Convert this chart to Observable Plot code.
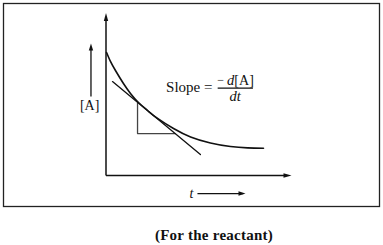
<!DOCTYPE html>
<html>
<head>
<meta charset="utf-8">
<script src="https://cdn.jsdelivr.net/npm/d3@7"></script>
<script src="https://cdn.jsdelivr.net/npm/@observablehq/plot@0.6"></script>
<style>
  html, body { margin: 0; padding: 0; background: #fff; }
  #chart svg { display: block; }
  #caption {
    font-family: "Liberation Serif", serif;
    font-weight: bold;
    font-size: 15px;
    letter-spacing: 0.25px;
    color: #111;
    width: 383px;
    box-sizing: border-box;
    padding-left: 45px;
    text-align: center;
    height: 33px;
    line-height: 46px;
  }
</style>
</head>
<body>
<div id="chart"></div>
<div id="caption">(For the reactant)</div>
<script>
// Concentration of reactant [A] vs time t (arbitrary units)
const timeValues = [0.03, 0.24, 0.51, 0.94, 1.32, 1.75, 2.24, 2.78, 3.64, 4.56, 5.63, 6.71, 7.63, 8.49];
const concValues = [7.57, 7.02, 6.46, 5.66, 5.05, 4.49, 4.00, 3.51, 2.89, 2.37, 2.00, 1.78, 1.70, 1.68];

// Tangent line at the touching point
const tangentT = [0.35, 5.09];
const tangentA = [5.78, 1.29];

// Slope triangle (vertical leg then horizontal leg)
const triangleT = [1.70, 1.70, 3.73];
const triangleA = [4.49, 2.58, 2.58];

// Labels
const yLabel = "[A]";
const xLabel = "t";
const slopeLabel = "Slope =";
const numMinus = "−";
const numD = "d";
const numA = "[A]";
const denom = "dt";

const curve = timeValues.map((t, i) => ({t, a: concValues[i]}));
const tangent = tangentT.map((t, i) => ({t, a: tangentA[i]}));
const triangle = triangleT.map((t, i) => ({t, a: triangleA[i]}));

const arrowHead = {
  draw(context) {
    context.moveTo(0, 0);
    context.lineTo(-2.2, 8);
    context.lineTo(2.2, 8);
    context.closePath();
  }
};
const smallHead = {
  draw(context) {
    context.moveTo(0, 0);
    context.lineTo(-2.2, 7);
    context.lineTo(2.2, 7);
    context.closePath();
  }
};

const font = "Liberation Serif";

const chart = Plot.plot({
  width: 383,
  height: 212,
  marginLeft: 3,
  marginRight: 4,
  marginTop: 3,
  marginBottom: 6,
  style: {background: "#fff", overflow: "visible"},
  x: {domain: [0, 10], range: [105.5, 291], axis: null},
  y: {domain: [0, 10], range: [175, 12.5], axis: null},
  marks: [
    Plot.frame({stroke: "#222", strokeWidth: 1.3}),
    // axes
    Plot.link([{x1: 0, y1: 0, x2: 0, y2: 9.6}], {x1: "x1", y1: "y1", x2: "x2", y2: "y2", stroke: "#111", strokeWidth: 1.5}),
    Plot.link([{x1: 0, y1: 0, x2: 9.6, y2: 0}], {x1: "x1", y1: "y1", x2: "x2", y2: "y2", stroke: "#111", strokeWidth: 1.5}),
    Plot.dot([{x: 0, y: 10}], {x: "x", y: "y", symbol: arrowHead, r: 3, fill: "#111", stroke: null}),
    Plot.dot([{x: 10, y: 0}], {x: "x", y: "y", symbol: arrowHead, r: 3, fill: "#111", stroke: null, rotate: 90}),
    // [A] arrow
    Plot.link([{x1: -0.81, y1: 4.86, x2: -0.81, y2: 7.9}], {x1: "x1", y1: "y1", x2: "x2", y2: "y2", stroke: "#111", strokeWidth: 1.3}),
    Plot.dot([{x: -0.81, y: 8.12}], {x: "x", y: "y", symbol: smallHead, r: 3, fill: "#111", stroke: null}),
    // t arrow
    Plot.link([{x1: 4.93, y1: -1.11, x2: 7.4, y2: -1.11}], {x1: "x1", y1: "y1", x2: "x2", y2: "y2", stroke: "#111", strokeWidth: 1.3}),
    Plot.dot([{x: 7.52, y: -1.11}], {x: "x", y: "y", symbol: smallHead, r: 3, fill: "#111", stroke: null, rotate: 90}),
    // slope triangle
    Plot.line(triangle, {x: "t", y: "a", stroke: "#444", strokeWidth: 1.3}),
    // tangent
    Plot.line(tangent, {x: "t", y: "a", stroke: "#111", strokeWidth: 1.3}),
    // curve
    Plot.line(curve, {x: "t", y: "a", curve: "natural", stroke: "#111", strokeWidth: 1.6}),
    // labels
    Plot.text([yLabel], {x: [-0.88], y: [4.32], text: d => d, fontFamily: font, fontSize: 14, fill: "#111"}),
    Plot.text([xLabel], {x: [4.61], y: [-1.11], text: d => d, fontFamily: font, fontSize: 14, fontStyle: "italic", fill: "#111"}),
    Plot.text([slopeLabel], {x: [5.74], y: [5.43], text: d => d, textAnchor: "end", fontFamily: font, fontSize: 15, fill: "#111"}),
    Plot.text([numMinus], {x: [6.0], y: [5.85], text: d => d, textAnchor: "start", fontFamily: font, fontSize: 12, fill: "#111"}),
    Plot.text([numD], {x: [6.52], y: [5.85], text: d => d, textAnchor: "start", fontFamily: font, fontSize: 14.5, fontStyle: "italic", fill: "#111"}),
    Plot.text([numA], {x: [6.92], y: [5.85], text: d => d, textAnchor: "start", fontFamily: font, fontSize: 14, fill: "#111"}),
    Plot.link([{x1: 6.02, y1: 5.38, x2: 7.92, y2: 5.38}], {x1: "x1", y1: "y1", x2: "x2", y2: "y2", stroke: "#111", strokeWidth: 1.1}),
    Plot.text([denom], {x: [6.96], y: [4.9], text: d => d, fontFamily: font, fontSize: 14.5, fontStyle: "italic", fill: "#111"})
  ]
});
document.getElementById("chart").appendChild(chart);
</script>
</body>
</html>
